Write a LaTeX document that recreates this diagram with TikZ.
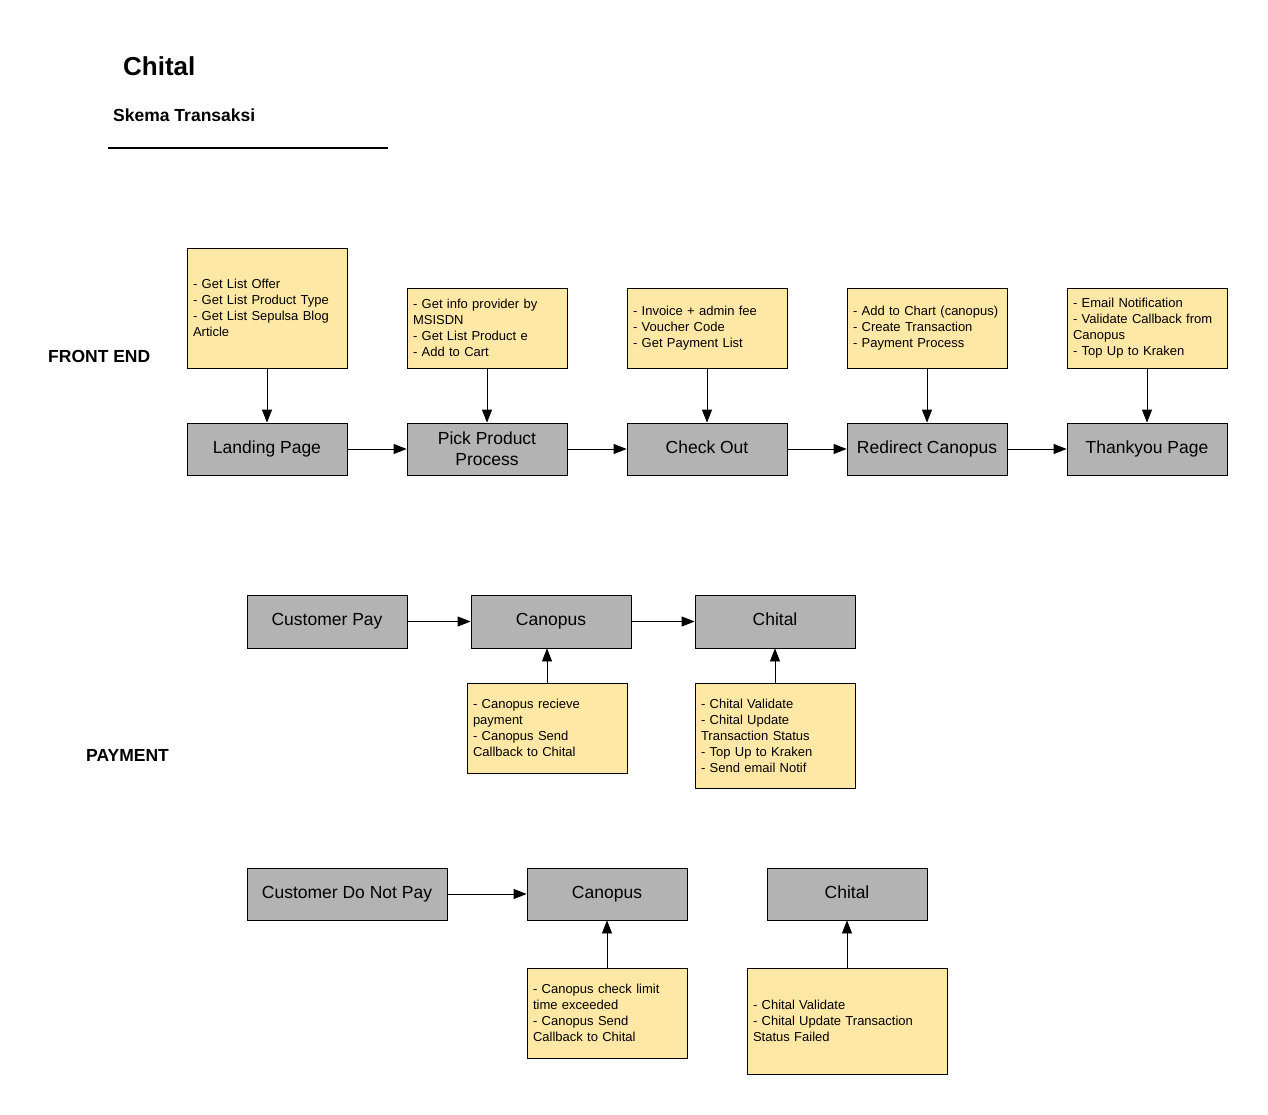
\documentclass[tikz,border=0pt]{standalone}
\usepackage{fontspec}
\setmainfont{Liberation Sans}
\usetikzlibrary{arrows.meta}
\hyphenpenalty=10000
\exhyphenpenalty=10000
\definecolor{boxgray}{HTML}{B3B3B3}
\definecolor{noteyellow}{HTML}{FFE8A6}
\tikzset{
  graybox/.style={draw=black, line width=0.8pt, fill=boxgray, inner sep=0pt,
    minimum width=160pt, minimum height=52pt,
    text height=12.6pt, text depth=3.7pt,
    font=\fontsize{17.5}{21}\selectfont},
  grayboxml/.style={draw=black, line width=0.8pt, fill=boxgray, inner sep=0pt,
    minimum width=160pt, minimum height=52pt, align=center,
    font=\fontsize{17.5}{21}\selectfont},
  note/.style={draw=black, line width=0.8pt, fill=noteyellow, inner xsep=6pt, inner ysep=0pt,
    text width=148pt, align=left, font=\fontsize{13}{16}\selectfont},
  conn/.style={line width=0.8pt, -{Triangle[length=13pt,width=10pt]}},
  heading/.style={anchor=base west, inner sep=0pt, font=\bfseries\fontsize{17.5}{21}\selectfont}
}
\begin{document}
\begin{tikzpicture}[x=1pt,y=-1pt]
\useasboundingbox (0,0) rectangle (1268,1114);
% titles
\node[anchor=base west, inner sep=0pt, font=\bfseries\fontsize{26}{30}\selectfont] (title) at (123,75) {Chital};
\node[heading] (sub) at (113,121) {Skema Transaksi};
\coordinate (ul1) at (108,148);
\coordinate (ul2) at (388,148);
\draw[line width=1.3pt] (ul1) -- (ul2);
\node[heading] (fe) at (48,362) {FRONT END};
\node[heading] (pay) at (86,761) {PAYMENT};

% front end row
\node[graybox] (lp) at (267,449) {Landing Page};
\node[grayboxml] (pp) at (487,449) {Pick Product\\Process};
\node[graybox] (co) at (707,449) {Check Out};
\node[graybox] (rc) at (927,449) {Redirect Canopus};
\node[graybox] (ty) at (1147,449) {Thankyou Page};

\node[note, minimum height=120pt] (n1) at (267,308) {- Get List Offer\\- Get List Product Type\\- Get List Sepulsa Blog Article};
\node[note, minimum height=80pt] (n2) at (487,328) {- Get info provider by MSISDN\\- Get List Product e\\- Add to Cart};
\node[note, minimum height=80pt] (n3) at (707,328) {- Invoice + admin fee\\- Voucher Code\\- Get Payment List};
\node[note, minimum height=80pt] (n4) at (927,328) {- Add to Chart (canopus)\\- Create Transaction\\- Payment Process};
\node[note, minimum height=80pt] (n5) at (1147,328) {- Email Notification\\- Validate Callback from Canopus\\- Top Up to Kraken};

\draw[conn] (n1) -- (lp);
\draw[conn] (n2) -- (pp);
\draw[conn] (n3) -- (co);
\draw[conn] (n4) -- (rc);
\draw[conn] (n5) -- (ty);
\draw[conn] (lp) -- (pp);
\draw[conn] (pp) -- (co);
\draw[conn] (co) -- (rc);
\draw[conn] (rc) -- (ty);

% payment row
\node[graybox, minimum height=53pt] (cp) at (327,621.5) {Customer Pay};
\node[graybox, minimum height=53pt] (cn1) at (551,621.5) {Canopus};
\node[graybox, minimum height=53pt] (ch1) at (775,621.5) {Chital};
\node[note, minimum height=90pt] (pn1) at (547,728) {- Canopus recieve payment\\- Canopus Send Callback to Chital};
\node[note, minimum height=105pt] (pn2) at (775,735.5) {- Chital Validate\\- Chital Update Transaction Status\\- Top Up to Kraken\\- Send email Notif};
\draw[conn] (cp) -- (cn1);
\draw[conn] (cn1) -- (ch1);
\draw[conn] (pn1.north) -- (pn1.north |- cn1.south);
\draw[conn] (pn2) -- (ch1);

% not paid row
\node[graybox, minimum width=200pt] (cd) at (347,894) {Customer Do Not Pay};
\node[graybox] (cn2) at (607,894) {Canopus};
\node[graybox] (ch2) at (847,894) {Chital};
\node[note, minimum height=90pt] (qn1) at (607,1013) {- Canopus check limit time exceeded\\- Canopus Send Callback to Chital};
\node[note, text width=188pt, minimum height=106pt] (qn2) at (847,1021) {- Chital Validate\\- Chital Update Transaction Status Failed};
\draw[conn] (cd) -- (cn2);
\draw[conn] (qn1) -- (cn2);
\draw[conn] (qn2) -- (ch2);
\end{tikzpicture}
\end{document}
